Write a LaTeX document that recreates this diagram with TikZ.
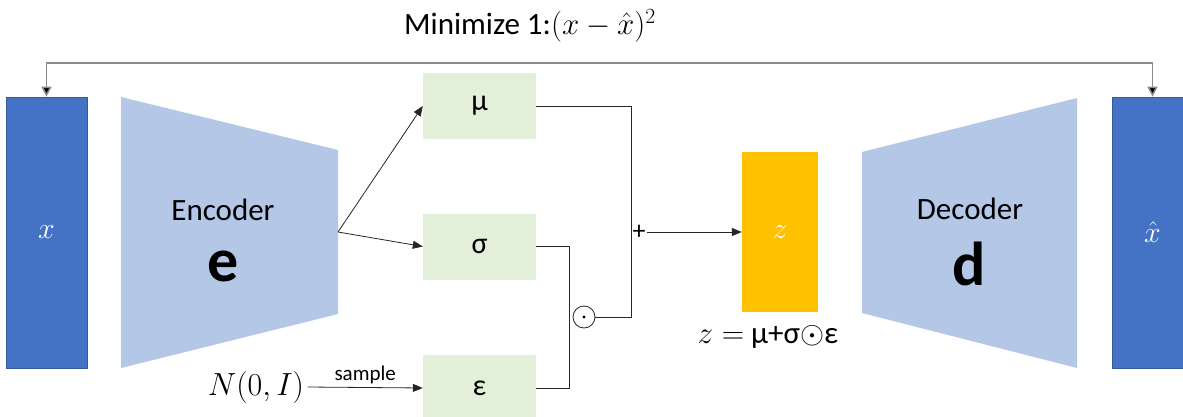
\documentclass[tikz,border=0pt]{standalone}
\usepackage{fix-cm}
\usepackage{fontspec}
\setmainfont{Carlito}
\usetikzlibrary{arrows.meta}
\definecolor{dblue}{HTML}{4472C4}
\definecolor{lblue}{HTML}{B4C7E7}
\definecolor{lgreen}{HTML}{E2F0D9}
\definecolor{zyellow}{HTML}{FFC000}
\definecolor{lgray}{HTML}{8C8C8C}
\begin{document}
\begin{tikzpicture}[x=1pt,y=-1pt,
  io/.style={rectangle, fill=dblue, draw=dblue!80!black, line width=0.6pt, minimum width=81pt, minimum height=271pt, inner sep=0pt, text=white, font=\fontsize{30}{34}\selectfont},
  gbox/.style={rectangle, fill=lgreen, minimum width=113pt, minimum height=66pt, inner sep=0pt, font=\fontsize{30}{34}\selectfont},
  conn/.style={draw=black!85, line width=0.8pt},
  tip/.style={-{Triangle[length=10pt,width=8pt]}},
  bigtxt/.style={font=\fontsize{31}{35}\selectfont},
  huge/.style={font=\fontsize{62}{70}\selectfont\bfseries}
]
\clip (0,0) rectangle (1183,417);
\fill[white] (0,0) rectangle (1183,417);

% trapezoids
\fill[lblue] (121,97) -- (338,150) -- (338,314) -- (121,368) -- cycle;
\fill[lblue] (862,152) -- (1077,98) -- (1077,368) -- (862,313) -- cycle;
\node[bigtxt] (enc) at (223,210) {Encoder};
\node[huge] (e) at (223,266) {e};
\node[bigtxt] (dec) at (970,209) {Decoder};
\node[huge] (d) at (969,264) {d};
\coordinate (eout) at (338,232);

% input/output
\node[io] (x) at (46.5,232.5) {$x$};
\node[io] (xh) at (1152.5,232.5) {$\hat{x}$};

% latent boxes
\node[gbox] (mu) at (479.5,106) {μ};
\node[gbox] (sig) at (479.5,246.5) {σ};
\node[gbox] (eps) at (479.5,388) {ε};
\node[rectangle, fill=zyellow, minimum width=76pt, minimum height=160pt, inner sep=0pt, text=white, font=\fontsize{30}{34}\selectfont] (z) at (780,232) {$z$};

\node[circle, draw=black!85, line width=0.8pt, minimum size=22pt, inner sep=0pt] (od) at (584,317) {};
\fill[black] (od.center) circle (1.6pt);

\node[font=\fontsize{26}{30}\selectfont, inner sep=1pt] (plus) at (639,232) {+};

\node[font=\fontsize{32}{38}\selectfont] (N) at (256,387) {$N(0,I)$};
\node[bigtxt] (form) at (768,337) {$z=$ μ+σ$\odot$ε};

% top
\node[font=\fontsize{31}{36}\selectfont] (min) at (530,26) {Minimize 1:$(x-\hat{x})^2$};
\coordinate (tl) at (46.5,63);
\coordinate (tr) at (1152.5,63);
\draw[draw=lgray, line width=1.5pt, {Triangle[length=10pt,width=10pt,fill=black]}-{Triangle[length=10pt,width=10pt,fill=black]}] (x.north) -- (tl) -- (tr) -- (xh.north);

% connectors
\draw[conn, tip] (eout) -- (mu.west);
\draw[conn, tip] (eout) -- (sig.west);
\draw[conn] (mu.east) -- (631,106) coordinate (mr) -- (mr |- od) -- (od.east);
\draw[conn] (sig.east) -- (569,246.5) coordinate (sr) -- (sr |- eps) -- (eps.east);
\draw[conn, tip] (plus.east) -- (z.west);
\draw[conn, tip] (N.east) -- node[above, font=\fontsize{21}{24}\selectfont, inner sep=3pt] (smp) {sample} (eps.west);
\end{tikzpicture}
\end{document}
